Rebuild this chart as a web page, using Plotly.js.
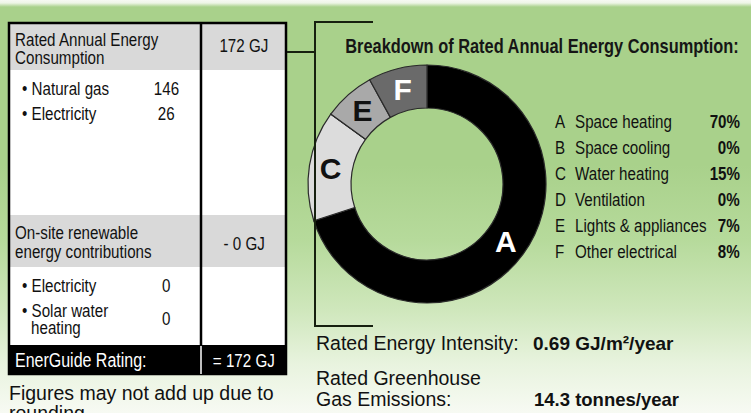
<!DOCTYPE html>
<html>
<head>
<meta charset="utf-8">
<script src="https://cdn.plot.ly/plotly-3.0.1.min.js"></script>
<style>
  html, body { margin: 0; padding: 0; }
  #chart {
    width: 751px; height: 413px;
    background: linear-gradient(to bottom, #f7f9f3 0px, #eef5e6 3px, #a9d18b 7px, #a9d18b 40%, #b6da9b 58%, #cfe7bc 75%, #e8f3de 88%, #f7faf3 100%);
  }
</style>
</head>
<body>
<div id="chart"></div>
<script>
// ---------------- DATA ----------------
const totalConsumptionGJ = 172;
const consumptionLabels = ['Natural gas', 'Electricity'];
const consumptionValues = [146, 26];
const renewableTotalGJ = 0;
const renewableLabels = ['Electricity', 'Solar water|heating'];
const renewableValues = [0, 0];
const energuideRatingGJ = 172;
const breakdownLetters = ['A', 'B', 'C', 'D', 'E', 'F'];
const breakdownNames = ['Space heating', 'Space cooling', 'Water heating', 'Ventilation', 'Lights & appliances', 'Other electrical'];
const breakdownPct = [70, 0, 15, 0, 7, 8];
const energyIntensity = '0.69 GJ/m²/year';
const ghgEmissions = '14.3 tonnes/year';
const footnote = ['Figures may not add up due to', 'rounding'];

// ---------------- STYLE ----------------
const SANS = '"Liberation Sans", Arial, sans-serif';
const NARROW_SCALE = 0.82;   // emulates a narrow (condensed) grotesque
const sliceColors = ['#000000', '#ffffff', '#dcdcdc', '#ffffff', '#a9a9a9', '#6a6a6a'];
const sliceTextColors = ['#ffffff', '#000000', '#111111', '#000000', '#111111', '#ffffff'];
const W = 751, H = 413;
const ink = '#16200f';

const ann = [];
const narrowFlags = [];
function txt(x, y, text, opts) {
  opts = opts || {};
  ann.push({
    x: x, y: y, xref: 'x', yref: 'y', text: text, showarrow: false,
    xanchor: opts.xa || 'left', yanchor: 'middle',
    font: { family: SANS, size: opts.size || 18.5, color: opts.color || '#111', weight: opts.weight || 'normal' }
  });
  narrowFlags.push(opts.wide ? null : (opts.xa || 'left'));
}

// left table text
txt(13, 39, 'Rated Annual Energy');
txt(13, 57, 'Consumption');
txt(243.5, 45, totalConsumptionGJ + ' GJ', { xa: 'center' });
const consY = [88, 113];
consumptionLabels.forEach((l, i) => {
  txt(20, consY[i], '• ' + l);
  txt(166, consY[i], String(consumptionValues[i]), { xa: 'center' });
});
txt(13, 232, 'On-site renewable');
txt(13, 251, 'energy contributions');
txt(243.5, 243, '- ' + renewableTotalGJ + ' GJ', { xa: 'center' });
const renY = [[285], [310, 327]];
renewableLabels.forEach((l, i) => {
  const parts = l.split('|');
  parts.forEach((p, j) => txt(j === 0 ? 20 : 29, renY[i][j], (j === 0 ? '• ' : '') + p));
  const vy = renY[i].reduce((a, b) => a + b, 0) / renY[i].length;
  txt(166, vy, String(renewableValues[i]), { xa: 'center' });
});
txt(13, 360, 'EnerGuide Rating:', { color: '#ffffff', size: 19.5 });
txt(243.5, 360, '= ' + energuideRatingGJ + ' GJ', { xa: 'center', color: '#ffffff', size: 18.5 });
txt(7, 393, footnote[0], { size: 19.5, wide: true });
txt(7, 413, footnote[1], { size: 19.5, wide: true });

// right side
txt(343, 46, 'Breakdown of Rated Annual Energy Consumption:', { size: 20, weight: 'bold', color: '#161616' });
breakdownLetters.forEach((L, i) => {
  const y = 121 + i * 26;
  txt(553, y, L);
  txt(573, y, breakdownNames[i]);
  txt(742, y, breakdownPct[i] + '%', { xa: 'right', weight: 'bold' });
});
txt(314, 343, 'Rated Energy Intensity:', { size: 19.5, wide: true });
txt(531, 343, energyIntensity, { size: 19, weight: 'bold', wide: true });
txt(314, 378, 'Rated Greenhouse', { size: 19.5, wide: true });
txt(314, 399, 'Gas Emissions:', { size: 19.5, wide: true });
txt(532, 399, ghgEmissions, { size: 18.5, weight: 'bold', wide: true });

// shapes
const shapes = [
  { type: 'rect', x0: 9, x1: 286, y0: 23, y1: 374, fillcolor: '#ffffff', line: { width: 0 }, layer: 'below' },
  { type: 'rect', x0: 9, x1: 286, y0: 23, y1: 70, fillcolor: '#d9d9d9', line: { width: 0 }, layer: 'below' },
  { type: 'rect', x0: 9, x1: 286, y0: 215, y1: 267, fillcolor: '#d9d9d9', line: { width: 0 }, layer: 'below' },
  { type: 'rect', x0: 9, x1: 286, y0: 345, y1: 374, fillcolor: '#000000', line: { width: 0 }, layer: 'below' },
  { type: 'rect', x0: 9, x1: 286, y0: 23, y1: 374, fillcolor: 'rgba(0,0,0,0)', line: { width: 2.5, color: '#000' }, layer: 'below' },
  { type: 'line', x0: 201, x1: 201, y0: 23, y1: 345, line: { width: 2.5, color: '#000' }, layer: 'below' },
  { type: 'line', x0: 201, x1: 201, y0: 346, y1: 374, line: { width: 1.5, color: '#ffffff' }, layer: 'below' },
  { type: 'line', x0: 287, x1: 315, y0: 52, y1: 52, line: { width: 2, color: ink } },
  { type: 'path', path: 'M 373 22 L 315 22 L 315 326 L 373 326', line: { width: 2, color: ink } }
];

// pie geometry (pixel -> paper)
const cx = 427, cy = 184, R = 119, rIn = 76;
const pie = {
  type: 'pie',
  values: breakdownPct,
  labels: breakdownNames,
  text: breakdownLetters.map((L, i) => breakdownPct[i] > 0 ? L : ''),
  textinfo: 'text',
  textposition: 'inside',
  insidetextorientation: 'horizontal',
  sort: false,
  direction: 'clockwise',
  rotation: 0,
  hole: rIn / R,
  marker: { colors: sliceColors, line: { color: '#2a2a2a', width: 1.2 } },
  textfont: { family: SANS, size: 30, weight: 'bold', color: sliceTextColors },
  domain: { x: [(cx - R) / W, (cx + R) / W], y: [1 - (cy + R) / H, 1 - (cy - R) / H] },
  showlegend: false,
  hoverinfo: 'none'
};

const layout = {
  width: W, height: H,
  margin: { l: 0, r: 0, t: 0, b: 0 },
  paper_bgcolor: 'rgba(0,0,0,0)',
  plot_bgcolor: 'rgba(0,0,0,0)',
  xaxis: { range: [0, W], visible: false, fixedrange: true },
  yaxis: { range: [H, 0], visible: false, fixedrange: true },
  shapes: shapes,
  annotations: ann,
  showlegend: false
};

Plotly.newPlot('chart', [pie], layout, { staticPlot: true, displayModeBar: false }).then(function () {
  const origins = { left: 'left center', center: 'center center', right: 'right center' };
  document.querySelectorAll('#chart .annotation').forEach(function (g) {
    const i = +g.getAttribute('data-index');
    const a = narrowFlags[i];
    if (!a) return;
    const t = g.querySelector('text');
    if (!t) return;
    t.style.transformBox = 'fill-box';
    t.style.transformOrigin = origins[a];
    t.style.transform = 'scaleX(' + NARROW_SCALE + ')';
  });
});
</script>
</body>
</html>
